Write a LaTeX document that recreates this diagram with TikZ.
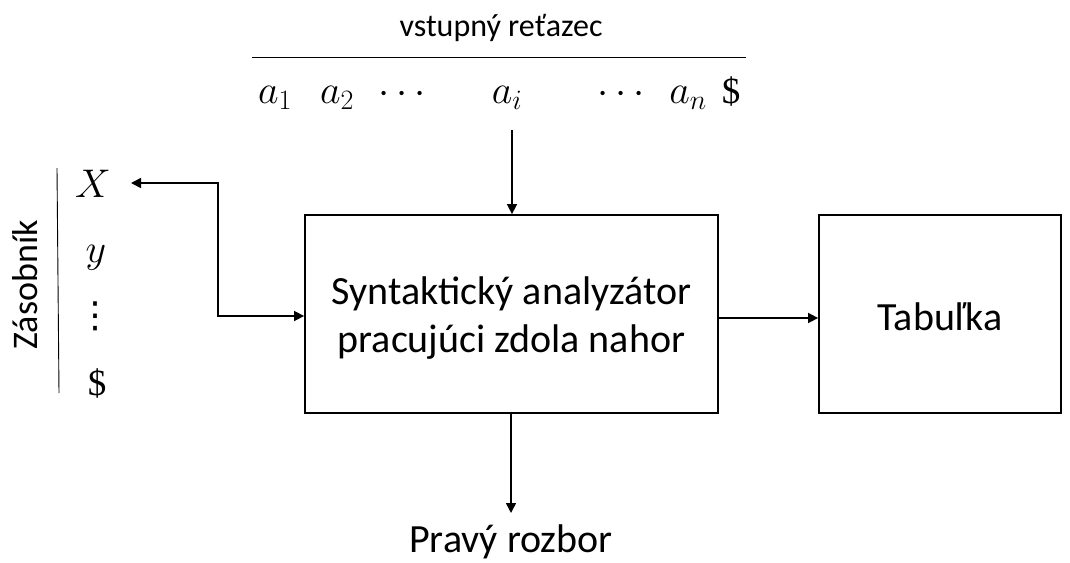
\RequirePackage{fix-cm}
\documentclass[tikz,border=0pt]{standalone}
\usepackage{fontspec}
\setmainfont{Carlito}
\newfontfamily\serifsym{Liberation Serif}
\newfontfamily\dejavu{DejaVu Sans}
\usetikzlibrary{arrows.meta}
\begin{document}
\begin{tikzpicture}[x=1pt,y=-1pt,
  box/.style={draw,line width=1.8pt,minimum width=413pt,minimum height=198pt,inner sep=0pt},
  tip/.tip={Triangle[length=10pt,width=10pt]},
  conn/.style={line width=1.6pt,-tip},
  big/.style={font=\fontsize{40}{48}\selectfont,inner sep=0pt},
  mid/.style={font=\fontsize{32}{38}\selectfont,inner sep=0pt},
  sym/.style={font=\fontsize{40}{48}\selectfont,inner sep=0pt,anchor=base},
  dollar/.style={font=\serifsym\fontsize{37}{40}\selectfont,inner sep=0pt,anchor=base}]
\useasboundingbox (0,0) rectangle (1070,562);
% input string
\node[mid] (title) at (501,28) {vstupný reťazec};
\draw[line width=0.9pt] (252,57) -- (746,57);
\node[sym] (a1) at (275,103) {$a_1$};
\node[sym] (a2) at (337,103) {$a_2$};
\node[sym] (d1) at (402,103) {$\cdots$};
\node[sym] (ai) at (507,103) {$a_i$};
\node[sym] (d2) at (621,103) {$\cdots$};
\node[sym] (an) at (688,103) {$a_n$};
\node[dollar] (end) at (731,103) {\$};
\coordinate (aiB) at (512,130);
% main boxes
\node[box] (parser) at (511.5,314) {};
\node[big,align=center] (ptext) at (511.5,318) {Syntaktický analyzátor\\pracujúci zdola nahor};
\node[box,minimum width=242pt] (table) at (940,314) {};
\node[big,anchor=base] (ttext) at (940,330) {Tabuľka};
% stack
\draw[line width=0.9pt] (57,168) -- (59,393);
\node[big,rotate=90,font=\fontsize{36}{40}\selectfont] (stk) at (25,285) {Zásobník};
\node[sym] (sX) at (93,197) {$X$};
\node[sym] (sy) at (96,262) {$y$};
\node[inner sep=0pt,font=\dejavu\fontsize{36}{38}\selectfont] (sd) at (95,316) {⋮};
\node[dollar] (sS) at (97,395) {\$};
% output
\node[big,anchor=base] (out) at (511,552) {Pravý rozbor};
% connectors
\draw[conn] (aiB) -- (parser.north -| aiB);
\draw[conn] (parser.east |- 0,318) -- (table.west |- 0,318);
\draw[conn] (parser.south -| 511,0) -- (511,513);
\draw[line width=1.6pt,tip-tip]
  (131,183) -- (218,183) -- (218,316) -- (parser.west |- 0,316);
\end{tikzpicture}
\end{document}
